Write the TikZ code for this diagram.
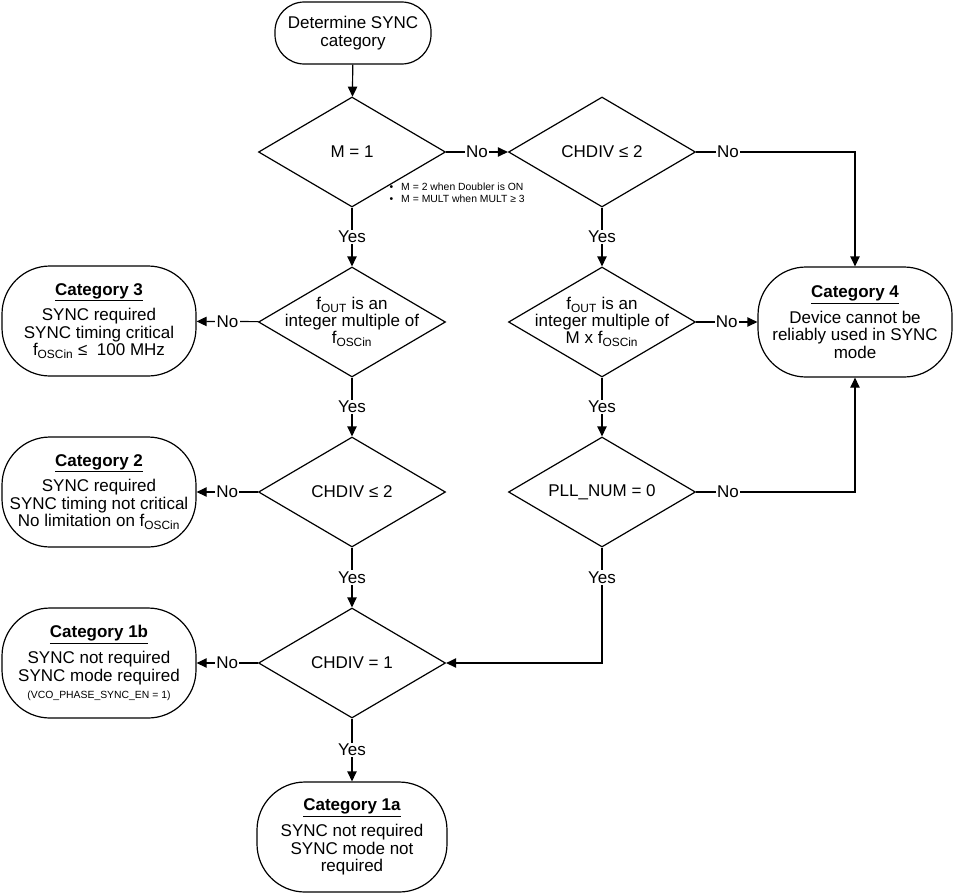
\documentclass[tikz,border=0pt]{standalone}
\usepackage{fontspec}
\setmainfont{Liberation Sans}
\usetikzlibrary{arrows.meta,shapes.geometric}

\begin{document}
\begin{tikzpicture}[
		x=0.75pt, y=-0.75pt,
		line width=0.9pt,
		every node/.style={font=\fontsize{12.75}{13}\selectfont},
		term/.style={draw, rectangle, rounded corners=22pt, minimum width=117pt, minimum height=46.5pt, align=center, inner sep=2pt},
		cat/.style={draw, rectangle, rounded corners=36pt, minimum width=145.5pt, minimum height=82.5pt, align=center, inner sep=2pt},
		dec/.style={draw, diamond, minimum width=140.25pt, minimum height=82.5pt, inner sep=0pt, label={[align=center]center:#1}},
		arr/.style={-{Triangle[length=7.5pt,width=7pt]}},
		lbl/.style={fill=white, inner sep=1pt},
		note/.style={font=\fontsize{7.8}{8.8}\selectfont, align=left, inner sep=0pt},
	]
		\useasboundingbox (0,0) rectangle (955,893);
		
		\node[term] (start) at (353,33) {Determine SYNC\\category};
		
		% decisions
		\node[dec={M = 1}] (m1) at (352,152) {};
		\node[dec={CHDIV ≤ 2}] (chA) at (602,152) {};
		\node[dec={f\textsubscript{OUT} is an\\integer multiple of\\f\textsubscript{OSCin}}] (foA) at (352,322) {};
		\node[dec={f\textsubscript{OUT} is an\\integer multiple of\\M x f\textsubscript{OSCin}}] (foB) at (602,322) {};
		\node[dec={CHDIV ≤ 2}] (chB) at (352,492) {};
		\node[dec={PLL\_NUM = 0}] (pll) at (602,492) {};
		\node[dec={CHDIV = 1}] (ch1) at (352,663) {};
		
		\node[note, anchor=west] (mnote) at (389,193) {\textbullet\hspace{6pt}M = 2 when Doubler is ON\\\textbullet\hspace{6pt}M = MULT when MULT ≥ 3};
		
		% categories
		\node[cat] (c3) at (99,321) {\underline{\textbf{Category 3}}\\[4.5pt]SYNC required\\SYNC timing critical\\f\textsubscript{OSCin} ≤\ \ 100 MHz};
		\node[cat] (c2) at (99,492) {\underline{\textbf{Category 2}}\\[4.5pt]SYNC required\\SYNC timing not critical\\No limitation on f\textsubscript{OSCin}};
		\node[cat] (c1b) at (99,663) {\underline{\textbf{Category 1b}}\\[4.5pt]SYNC not required\\SYNC mode required\\{\fontsize{7.8}{9}\selectfont (VCO\_PHASE\_SYNC\_EN = 1)}};
		\node[cat, minimum width=142.5pt] (c1a) at (352,837) {\underline{\textbf{Category 1a}}\\[4.5pt]SYNC not required\\SYNC mode not\\required};
		\node[cat] (c4) at (855,322) {\underline{\textbf{Category 4}}\\[4.5pt]Device cannot be\\reliably used in SYNC\\mode};
		
		\draw[arr] (start) -- (m1);
		\draw[arr] (m1) -- node[lbl] {No} (chA);
		\draw[arr] (chA.east) -| node[lbl, pos=0.1] {No} (c4.north);
		\draw[arr] (m1) -- node[lbl] {Yes} (foA);
		\draw[arr] (chA) -- node[lbl] {Yes} (foB);
		\draw[arr] (foA) -- node[lbl] {No} (c3);
		\draw[arr] (foB) -- node[lbl] {No} (c4);
		\draw[arr] (foA) -- node[lbl] {Yes} (chB);
		\draw[arr] (foB) -- node[lbl] {Yes} (pll);
		\draw[arr] (chB) -- node[lbl] {No} (c2);
		\draw[arr] (pll.east) -| node[lbl, pos=0.1] {No} (c4.south);
		\draw[arr] (chB) -- node[lbl] {Yes} (ch1);
		\draw[arr] (pll.south) |- node[lbl, pos=0.13] {Yes} (ch1.east);
		\draw[arr] (ch1) -- node[lbl] {No} (c1b);
		\draw[arr] (ch1) -- node[lbl] {Yes} (c1a);
\end{tikzpicture}
\end{document}
